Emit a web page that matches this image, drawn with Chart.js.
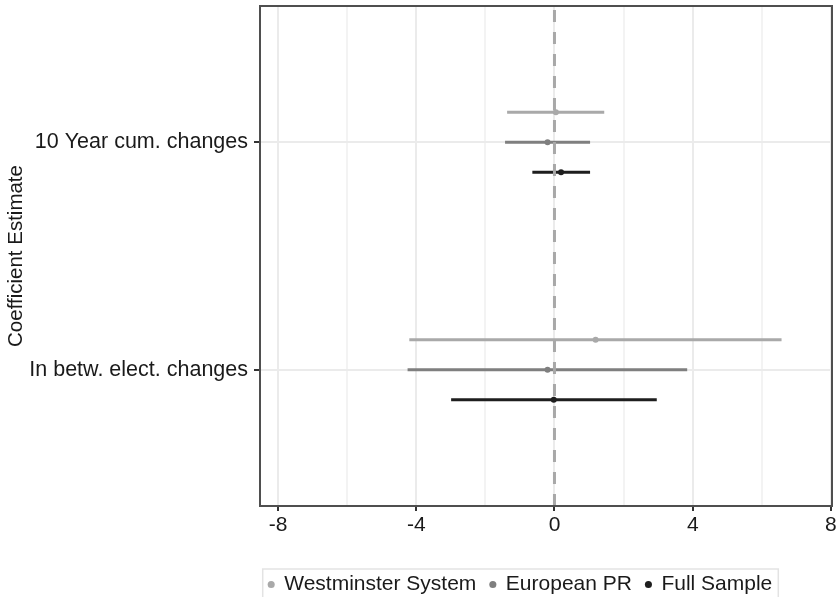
<!DOCTYPE html>
<html>
<head>
<meta charset="utf-8">
<script src="https://cdn.jsdelivr.net/npm/chart.js@4/dist/chart.umd.min.js"></script>
<style>
  body { margin: 0; background: #fff; }
</style>
</head>
<body>
<canvas id="myChart" width="836" height="597"></canvas>
<script>
// categories bottom -> top (y = 1, 2)
var categories = ["In betw. elect. changes", "10 Year cum. changes"];
var seriesNames = ["Westminster System", "European PR", "Full Sample"];

var westEst = [1.19, 0.04];
var westLow = [-4.2, -1.37];
var westHigh = [6.57, 1.44];

var euroEst = [-0.2, -0.2];
var euroLow = [-4.25, -1.43];
var euroHigh = [3.84, 1.03];

var fullEst = [-0.02, 0.19];
var fullLow = [-2.99, -0.64];
var fullHigh = [2.96, 1.03];

var xTicks = [-8, -4, 0, 4, 8];

var ests = [westEst, euroEst, fullEst];
var lows = [westLow, euroLow, fullLow];
var highs = [westHigh, euroHigh, fullHigh];
var colors = ["#a9a9a9", "#7f7f7f", "#1e1e1e"];
var dodge = [0.132, 0, -0.132];

// minor grid between major ticks
var xGrid = [];
xTicks.forEach(function (t, i) {
  xGrid.push(t);
  if (i < xTicks.length - 1) xGrid.push((t + xTicks[i + 1]) / 2);
});

Chart.defaults.font.family = "'Liberation Sans', Arial, sans-serif";
Chart.defaults.color = "#1a1a1a";

var datasets = [];
seriesNames.forEach(function (name, s) {
  var pts = [];
  var bars = [];
  categories.forEach(function (c, i) {
    var y = i + 1 + dodge[s];
    bars.push({ x: lows[s][i], y: y }, { x: highs[s][i], y: y }, { x: null, y: null });
    pts.push({ x: ests[s][i], y: y });
  });
  datasets.push({
    label: name,
    data: pts,
    backgroundColor: colors[s],
    borderColor: colors[s],
    borderWidth: 0,
    pointRadius: 3,
    pointStyle: "circle",
    order: 0,
  });
  datasets.push({
    label: name + " interval",
    data: bars,
    showLine: true,
    spanGaps: false,
    borderColor: colors[s],
    borderWidth: 3,
    pointRadius: 0,
    order: 2,
  });
});
datasets.push({
  label: "zero",
  data: [{ x: 0, y: 0.4 }, { x: 0, y: 2.6 }],
  showLine: true,
  borderColor: "#a8a8a8",
  borderWidth: 3,
  borderDash: [12, 10],
  pointRadius: 0,
  order: 1,
});

var framePlugin = {
  id: "frame",
  afterLayout: function (chart) {
    var lg = chart.legend;
    lg.left = 205;
    lg.right = 836;
    lg.top = 560;
    lg.bottom = 597;
  },
  afterDatasetsDraw: function (chart) {
    var a = chart.chartArea;
    var ctx = chart.ctx;
    ctx.save();
    ctx.strokeStyle = "#4f4f4f";
    ctx.lineWidth = 2;
    ctx.strokeRect(a.left, a.top, a.right - a.left, a.bottom - a.top);
    ctx.restore();
  },
  afterDraw: function (chart) {
    var hb = chart.legend.legendHitBoxes;
    if (!hb || !hb.length) return;
    var l = Infinity, r = -Infinity, t = Infinity;
    hb.forEach(function (h) {
      l = Math.min(l, h.left);
      r = Math.max(r, h.left + h.width);
      t = Math.min(t, h.top);
    });
    var ctx = chart.ctx;
    ctx.save();
    ctx.strokeStyle = "#e3e3e3";
    ctx.lineWidth = 1.5;
    ctx.strokeRect(l - 6, t - 5, r - l + 12, 50);
    ctx.restore();
  },
};

var ctx = document.getElementById("myChart").getContext("2d");
var myChart = new Chart(ctx, {
  type: "scatter",
  data: { datasets: datasets },
  plugins: [framePlugin],
  options: {
    responsive: false,
    animation: false,
    layout: { autoPadding: false, padding: { left: 0, right: 4, top: 6, bottom: 0 } },
    plugins: {
      tooltip: { enabled: false },
      legend: {
        position: "bottom",
        labels: {
          usePointStyle: true,
          boxWidth: 5,
          boxHeight: 5,
          padding: 14,
          color: "#1a1a1a",
          font: { size: 21 },
          filter: function (item) {
            return seriesNames.indexOf(item.text) >= 0;
          },
        },
      },
    },
    scales: {
      x: {
        type: "linear",
        min: -8.52,
        max: 8.03,
        afterBuildTicks: function (s) {
          s.ticks = xGrid.map(function (v) { return { value: v }; });
        },
        afterFit: function (s) {
          s.height = 91 - s.chart.legend.height;
          s.paddingLeft = 0;
          s.paddingRight = 0;
        },
        ticks: {
          autoSkip: false,
          maxRotation: 0,
          padding: 2,
          color: "#1a1a1a",
          font: { size: 21 },
          callback: function (v) {
            return xTicks.indexOf(v) >= 0 ? String(v) : "";
          },
        },
        grid: {
          lineWidth: 2,
          color: function (c) {
            return xTicks.indexOf(c.tick.value) >= 0 ? "#ebebeb" : "#f3f3f3";
          },
          tickLength: 5,
          tickWidth: 2,
          tickColor: function (c) {
            return xTicks.indexOf(c.tick.value) >= 0 ? "#333333" : "rgba(0,0,0,0)";
          },
        },
        border: { display: false },
      },
      y: {
        type: "linear",
        min: 0.4,
        max: 2.6,
        afterBuildTicks: function (s) {
          s.ticks = categories.map(function (c, i) { return { value: i + 1 }; });
        },
        afterFit: function (s) {
          s.width = 260;
          s.paddingTop = 0;
          s.paddingBottom = 0;
        },
        ticks: {
          padding: 6,
          color: "#1a1a1a",
          font: { size: 21.5 },
          callback: function (v) {
            return categories[v - 1];
          },
        },
        grid: {
          color: "#ebebeb",
          lineWidth: 2,
          tickLength: 6,
          tickWidth: 2,
          tickColor: "#333333",
        },
        border: { display: false },
        title: {
          display: true,
          text: "Coefficient Estimate",
          color: "#1a1a1a",
          font: { size: 20.5 },
          padding: { top: 4, bottom: 0 },
        },
      },
    },
  },
});
</script>
</body>
</html>
